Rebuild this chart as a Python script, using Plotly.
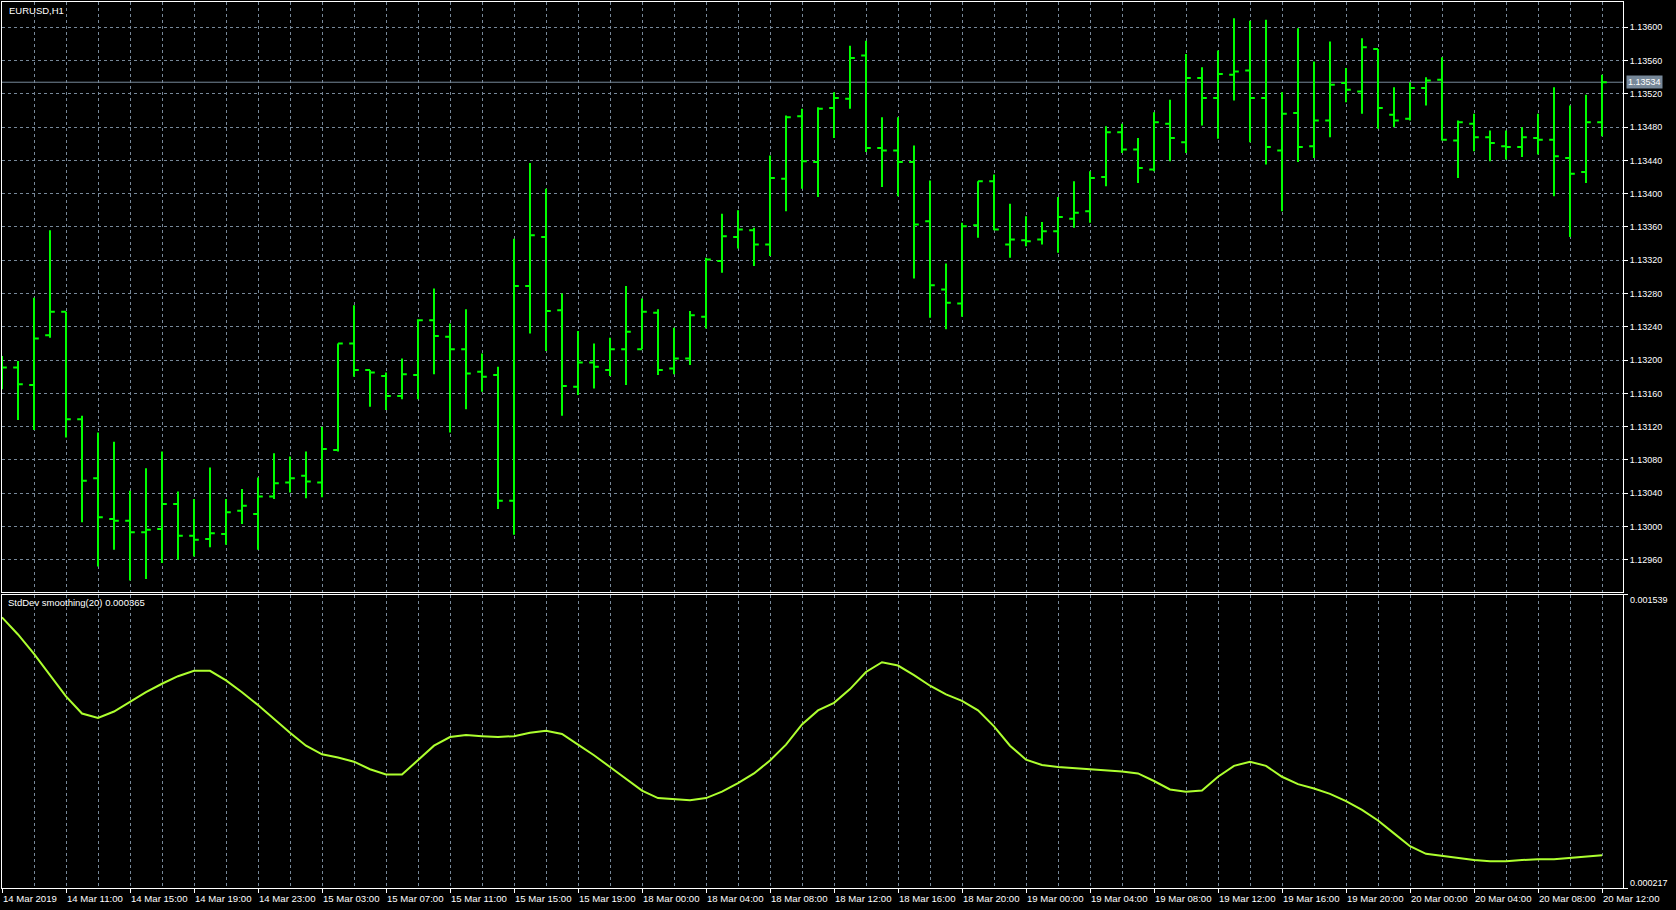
import plotly.graph_objects as go

# ---------------- data ----------------
opens = [1.13190, 1.13191, 1.13170, 1.13230, 1.13258, 1.13129, 1.13058, 1.13009, 1.13007, 1.12993,
         1.12997, 1.13027, 1.12989, 1.12985, 1.12991, 1.13019, 1.13015, 1.13036, 1.13053, 1.13061,
         1.13053, 1.13092, 1.13220, 1.13188, 1.13181, 1.13157, 1.13182, 1.13248, 1.13228, 1.13213,
         1.13186, 1.13182, 1.13031, 1.13289, 1.13348, 1.13260, 1.13168, 1.13197, 1.13188, 1.13213,
         1.13213, 1.13257, 1.13190, 1.13202, 1.13252, 1.13319, 1.13348, 1.13356, 1.13339, 1.13418,
         1.13493, 1.13438, 1.13503, 1.13514, 1.13566, 1.13455, 1.13452, 1.13438, 1.13367, 1.13285,
         1.13268, 1.13362, 1.13415, 1.13339, 1.13344, 1.13345, 1.13355, 1.13370, 1.13379, 1.13420,
         1.13474, 1.13453, 1.13429, 1.13484, 1.13462, 1.13539, 1.13515, 1.13543, 1.13548, 1.13515,
         1.13452, 1.13497, 1.13457, 1.13488, 1.13533, 1.13523, 1.13574, 1.13495, 1.13490, 1.13527,
         1.13537, 1.13464, 1.13484, 1.13468, 1.13457, 1.13456, 1.13467, 1.13465, 1.13443, 1.13426,
         1.13486]
highs = [1.13205, 1.13199, 1.13275, 1.13356, 1.13258, 1.13133, 1.13113, 1.13102, 1.13043, 1.13070,
         1.13090, 1.13042, 1.13033, 1.13071, 1.13033, 1.13045, 1.13059, 1.13088, 1.13084, 1.13090,
         1.13120, 1.13220, 1.13266, 1.13188, 1.13185, 1.13202, 1.13249, 1.13286, 1.13244, 1.13261,
         1.13208, 1.13192, 1.13346, 1.13437, 1.13406, 1.13280, 1.13235, 1.13220, 1.13227, 1.13289,
         1.13274, 1.13261, 1.13239, 1.13259, 1.13323, 1.13376, 1.13380, 1.13359, 1.13446, 1.13494,
         1.13502, 1.13504, 1.13522, 1.13578, 1.13584, 1.13492, 1.13492, 1.13458, 1.13416, 1.13316,
         1.13365, 1.13415, 1.13423, 1.13388, 1.13373, 1.13366, 1.13396, 1.13415, 1.13427, 1.13481,
         1.13484, 1.13467, 1.13498, 1.13513, 1.13568, 1.13552, 1.13572, 1.13611, 1.13608, 1.13609,
         1.13522, 1.13599, 1.13559, 1.13583, 1.13551, 1.13587, 1.13574, 1.13528, 1.13534, 1.13540,
         1.13564, 1.13488, 1.13496, 1.13476, 1.13476, 1.13480, 1.13496, 1.13528, 1.13506, 1.13519,
         1.13543]
lows = [1.13165, 1.13128, 1.13116, 1.13227, 1.13107, 1.13005, 1.12952, 1.12972, 1.12935, 1.12937,
        1.12956, 1.12960, 1.12964, 1.12975, 1.12978, 1.13003, 1.12972, 1.13033, 1.13041, 1.13034,
        1.13035, 1.13090, 1.13180, 1.13144, 1.13140, 1.13153, 1.13153, 1.13183, 1.13113, 1.13141,
        1.13162, 1.13021, 1.12990, 1.13232, 1.13211, 1.13133, 1.13158, 1.13166, 1.13181, 1.13170,
        1.13213, 1.13182, 1.13183, 1.13194, 1.13238, 1.13305, 1.13334, 1.13313, 1.13325, 1.13379,
        1.13406, 1.13396, 1.13467, 1.13502, 1.13450, 1.13408, 1.13397, 1.13298, 1.13251, 1.13237,
        1.13252, 1.13347, 1.13356, 1.13323, 1.13337, 1.13339, 1.13329, 1.13359, 1.13365, 1.13409,
        1.13449, 1.13413, 1.13427, 1.13439, 1.13449, 1.13482, 1.13466, 1.13512, 1.13462, 1.13435,
        1.13379, 1.13438, 1.13443, 1.13468, 1.13510, 1.13496, 1.13478, 1.13480, 1.13488, 1.13506,
        1.13464, 1.13419, 1.13451, 1.13439, 1.13441, 1.13444, 1.13447, 1.13397, 1.13348, 1.13413,
        1.13469]
closes = [1.13191, 1.13171, 1.13226, 1.13258, 1.13129, 1.13055, 1.13011, 1.13007, 1.12993, 1.12996,
          1.13027, 1.12989, 1.12984, 1.12992, 1.13017, 1.13025, 1.13036, 1.13052, 1.13058, 1.13054,
          1.13093, 1.13220, 1.13188, 1.13185, 1.13157, 1.13183, 1.13248, 1.13229, 1.13213, 1.13184,
          1.13180, 1.13031, 1.13289, 1.13350, 1.13259, 1.13169, 1.13197, 1.13192, 1.13213, 1.13234,
          1.13258, 1.13188, 1.13202, 1.13254, 1.13321, 1.13349, 1.13357, 1.13339, 1.13419, 1.13492,
          1.13439, 1.13502, 1.13515, 1.13563, 1.13455, 1.13452, 1.13438, 1.13363, 1.13290, 1.13269,
          1.13361, 1.13415, 1.13357, 1.13345, 1.13343, 1.13355, 1.13372, 1.13377, 1.13419, 1.13474,
          1.13453, 1.13431, 1.13486, 1.13467, 1.13539, 1.13515, 1.13544, 1.13547, 1.13515, 1.13456,
          1.13496, 1.13456, 1.13488, 1.13531, 1.13525, 1.13576, 1.13503, 1.13488, 1.13527, 1.13536,
          1.13465, 1.13486, 1.13468, 1.13461, 1.13456, 1.13468, 1.13465, 1.13445, 1.13424, 1.13486,
          1.13534]
stddev = [0.001436, 0.001359, 0.001272, 0.001176, 0.001080, 0.001003, 0.000983, 0.001012, 0.001055, 0.001099,
          0.001137, 0.001171, 0.001195, 0.001195, 0.001152, 0.001099, 0.001041, 0.000978, 0.000916, 0.000858,
          0.000819, 0.000805, 0.000786, 0.000752, 0.000728, 0.000728, 0.000791, 0.000858, 0.000897, 0.000906,
          0.000901, 0.000897, 0.000901, 0.000916, 0.000925, 0.000911, 0.000863, 0.000815, 0.000762, 0.000709,
          0.000656, 0.000622, 0.000617, 0.000612, 0.000622, 0.000651, 0.000689, 0.000733, 0.000791, 0.000863,
          0.000954, 0.001017, 0.001051, 0.001113, 0.001190, 0.001234, 0.001219, 0.001176, 0.001128, 0.001089,
          0.001060, 0.001017, 0.000945, 0.000858, 0.000795, 0.000771, 0.000762, 0.000757, 0.000752, 0.000747,
          0.000742, 0.000733, 0.000699, 0.000661, 0.000651, 0.000656, 0.000718, 0.000767, 0.000786, 0.000767,
          0.000718, 0.000685, 0.000665, 0.000641, 0.000608, 0.000569, 0.000521, 0.000463, 0.000405, 0.000371,
          0.000362, 0.000352, 0.000343, 0.000338, 0.000338, 0.000343, 0.000347, 0.000347, 0.000352, 0.000357,
          0.000365]
time_labels = ["14 Mar 2019", "14 Mar 11:00", "14 Mar 15:00", "14 Mar 19:00", "14 Mar 23:00",
               "15 Mar 03:00", "15 Mar 07:00", "15 Mar 11:00", "15 Mar 15:00", "15 Mar 19:00",
               "18 Mar 00:00", "18 Mar 04:00", "18 Mar 08:00", "18 Mar 12:00", "18 Mar 16:00",
               "18 Mar 20:00", "19 Mar 00:00", "19 Mar 04:00", "19 Mar 08:00", "19 Mar 12:00",
               "19 Mar 16:00", "19 Mar 20:00", "20 Mar 00:00", "20 Mar 04:00", "20 Mar 08:00",
               "20 Mar 12:00"]
symbol = "EURUSD,H1"
indicator_name = "StdDev smoothing(20)"
std_scale = [0.000217, 0.001539]
bars_per_label = 4

# ---------------- style ----------------
BG = "#000000"
GRID = "#778899"
FG = "#ffffff"
BAR = "#00ff00"
LINE = "#adff2f"
FONT = "Liberation Sans"

idx = list(range(len(closes)))
label_pos = [k * bars_per_label for k in range(len(time_labels))]

W, H = 1676, 910
ML, MR, MT, MB = 2, 53, 2, 22
plot_w = W - ML - MR
bar_px = 16
x_max = plot_w / bar_px

fig = go.Figure()
fig.add_trace(go.Ohlc(
    x=idx, open=opens, high=highs, low=lows, close=closes,
    increasing=dict(line=dict(color=BAR, width=2)),
    decreasing=dict(line=dict(color=BAR, width=2)),
    tickwidth=0.3, xaxis="x", yaxis="y", showlegend=False, hoverinfo="skip"))
fig.add_trace(go.Scatter(
    x=idx, y=stddev, mode="lines", line=dict(color=LINE, width=2),
    xaxis="x2", yaxis="y2", showlegend=False, hoverinfo="skip"))

grid_common = dict(showgrid=True, gridcolor=GRID, griddash="3px,3px", gridwidth=1,
                   zeroline=False, showline=True, linecolor=FG, linewidth=1, mirror=True)

fig.update_layout(
    width=W, height=H, paper_bgcolor=BG, plot_bgcolor=BG,
    margin=dict(l=ML, r=MR, t=MT, b=MB),
    font=dict(family=FONT, color=FG, size=9),
    showlegend=False,
    xaxis=dict(domain=[0, 1], range=[0, x_max], anchor="y", tickvals=label_pos,
               showticklabels=False, ticks="",
               minor=dict(dtick=2, tick0=0, showgrid=True, gridcolor=GRID, griddash="3px,3px", ticks=""),
               rangeslider=dict(visible=False), **grid_common),
    yaxis=dict(domain=[0.33465, 1], range=[1.1292186, 1.1363044], anchor="x", side="right",
               tick0=1.1296, dtick=0.0004, tickformat=".5f", ticks="outside", ticklen=4,
               tickcolor=FG, tickfont=dict(family=FONT, size=9, color=FG), **grid_common),
    xaxis2=dict(domain=[0, 1], matches="x", range=[0, x_max], anchor="y2", tickvals=label_pos,
                showticklabels=False, ticks="outside", ticklen=4, tickcolor=FG,
                minor=dict(dtick=2, tick0=0, showgrid=True, gridcolor=GRID, griddash="3px,3px", ticks=""),
                rangeslider=dict(visible=False), **grid_common),
    yaxis2=dict(domain=[0, 0.33126], range=std_scale, anchor="x2", side="right",
                tickvals=std_scale, showticklabels=False, ticks="outside", ticklen=4, tickcolor=FG,
                showgrid=False, zeroline=False, showline=True, linecolor=FG, linewidth=1, mirror=True),
)

# current price line
fig.add_shape(type="line", xref="x domain", yref="y", x0=0, x1=1,
              y0=closes[-1], y1=closes[-1], line=dict(color=GRID, width=1), layer="below")

ann = []
ann.append(dict(text=symbol, xref="paper", yref="paper", x=0, y=1, xanchor="left", yanchor="middle",
                xshift=5, yshift=-8, showarrow=False, font=dict(family=FONT, size=9.5, color=FG)))
ann.append(dict(text=f"{indicator_name} {stddev[-1]:.6f}", xref="paper", yref="y2 domain", x=0, y=1,
                xanchor="left", yanchor="middle", xshift=4, yshift=-8, showarrow=False,
                font=dict(family=FONT, size=9.5, color=FG)))
ann.append(dict(text=f"{closes[-1]:.5f}", xref="paper", yref="y", x=1, y=closes[-1],
                xanchor="left", yanchor="middle", xshift=3, showarrow=False, bgcolor=GRID,
                borderpad=1, font=dict(family=FONT, size=9, color=FG)))
ann.append(dict(text=f"{std_scale[1]:.6f}", xref="paper", yref="y2", x=1, y=std_scale[1],
                xanchor="left", yanchor="middle", xshift=5, yshift=-5, showarrow=False,
                font=dict(family=FONT, size=9, color=FG)))
ann.append(dict(text=f"{std_scale[0]:.6f}", xref="paper", yref="y2", x=1, y=std_scale[0],
                xanchor="left", yanchor="middle", xshift=5, yshift=5, showarrow=False,
                font=dict(family=FONT, size=9, color=FG)))
for pos, lab in zip(label_pos, time_labels):
    ann.append(dict(text=lab, xref="x2", yref="paper", x=pos, y=0, xanchor="left", yanchor="middle",
                    xshift=-1, yshift=-10, showarrow=False, font=dict(family=FONT, size=9.6, color=FG)))
fig.update_layout(annotations=ann)

fig.write_html("out.html", config={"displayModeBar": False},
               post_script="document.body.style.margin='0';document.body.style.padding='0';document.body.style.overflow='hidden';")
